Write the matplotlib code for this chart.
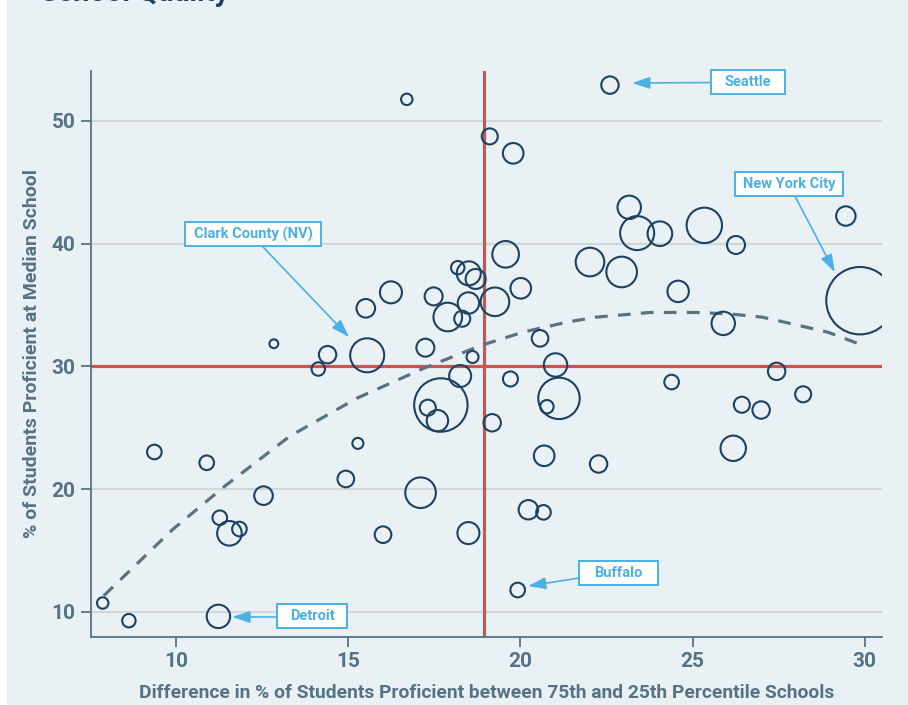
import matplotlib
matplotlib.use("Agg")
import matplotlib.pyplot as plt
from matplotlib.patches import Rectangle

plt.rcParams['font.family'] = ['Liberation Sans Narrow', 'Roboto', 'DejaVu Sans']
plt.rcParams['font.weight'] = 'bold'

# --- data --------------------------------------------------------------------
gap = [16.70, 19.11, 19.79, 22.60, 23.16, 23.39, 24.05, 25.34, 26.26, 29.45,
       19.57, 22.02, 22.94, 18.18, 18.50, 18.70, 16.24, 17.48, 15.51, 18.49,
       19.26, 20.01, 24.58, 17.89, 18.31, 25.89, 29.86, 12.84, 14.40, 14.13,
       15.55, 17.24, 20.57, 18.61, 21.02, 18.25, 19.71, 27.44, 24.39, 28.21,
       26.43, 26.99, 17.69, 17.31, 17.59, 19.18, 21.12, 20.77, 15.28, 9.37,
       10.89, 14.93, 17.10, 12.54, 11.27, 11.55, 11.84, 16.01, 18.49, 20.69,
       22.27, 26.18, 20.23, 20.67, 19.92, 7.87, 8.63, 11.23]
median = [51.76, 48.74, 47.36, 52.92, 42.96, 40.86, 40.81, 41.49, 39.89, 42.25,
          39.13, 38.50, 37.69, 38.04, 37.58, 37.12, 36.03, 35.70, 34.73, 35.16,
          35.26, 36.36, 36.11, 34.02, 33.88, 33.50, 35.35, 31.84, 30.95, 29.78,
          30.90, 31.52, 32.28, 30.76, 30.11, 29.21, 28.97, 29.59, 28.72, 27.72,
          26.87, 26.44, 26.85, 26.63, 25.57, 25.40, 27.39, 26.71, 23.72, 23.02,
          22.14, 20.82, 19.70, 19.46, 17.66, 16.39, 16.74, 16.28, 16.41, 22.71,
          22.04, 23.32, 18.31, 18.10, 11.77, 10.71, 9.27, 9.62]
# bubble radius (district size, px)
radius = [5.7, 8.0, 10.3, 8.7, 11.7, 17.0, 12.3, 17.7, 9.0, 9.7,
          13.3, 14.3, 15.3, 6.7, 12.0, 10.0, 11.0, 9.0, 9.3, 10.7,
          14.3, 10.3, 10.7, 14.3, 8.0, 11.7, 33.7, 4.4, 8.7, 6.7,
          17.0, 9.0, 8.3, 6.0, 11.7, 11.0, 7.5, 8.7, 7.3, 8.0,
          8.0, 8.7, 26.7, 8.0, 10.7, 8.7, 20.7, 6.7, 5.5, 7.3,
          7.3, 8.3, 15.3, 9.3, 7.3, 12.3, 7.3, 8.3, 11.0, 10.3,
          8.7, 12.7, 9.7, 7.3, 7.3, 5.7, 6.7, 11.7]

# fitted trend (dashed line)
trend_x = [7.9, 9.9, 11.4, 13.3, 15.25, 17.2, 18.85, 20.08, 21.35, 22.17,
           23.76, 25.13, 26.09, 27.04, 28.12, 28.94, 29.86]
trend_y = [11.3, 16.7, 20.2, 24.3, 27.4, 29.85, 31.7, 32.79, 33.6, 34.0,
           34.39, 34.39, 34.27, 34.0, 33.31, 32.77, 31.8]

median_gap = 18.93
median_prof = 30

labels = ['Seattle', 'New York City', 'Clark County (NV)', 'Buffalo', 'Detroit']
label_xy = [(26.61, 53.17), (27.80, 44.84), (12.24, 40.77), (22.85, 13.15), (13.95, 9.65)]
label_w = [2.149, 3.136, 3.949, 2.294, 2.033]
label_h = 1.956
arrow_from = [(25.53, 53.13), (27.97, 43.88), (12.50, 39.80), (21.70, 12.75), (12.93, 9.57)]
arrow_to = [(23.24, 53.09), (29.13, 37.67), (15.02, 32.39), (20.22, 12.09), (11.63, 9.57)]

bg = '#e9f1f5'
navy = '#1d4160'
slate = '#557385'
red = '#cc5450'
blue = '#4bb1e5'

fig = plt.figure(figsize=(9.08, 7.05), dpi=100, facecolor='white')
fig.patches.append(Rectangle((7 / 908, 0), 1, 1, transform=fig.transFigure,
                             facecolor=bg, edgecolor='none', zorder=-10))
# title is cut off by the top edge
fig.text(40 / 908, 1 - 0.8 / 705, 'School Quality', fontsize=21, color=navy,
         fontweight='bold', va='baseline', ha='left')

ax = fig.add_axes([91 / 908, 1 - 637 / 705, (882 - 91) / 908, (637 - 71) / 705])
ax.set_facecolor('none')
ax.set_xlim(7.53, 30.5)
ax.set_ylim(7.94, 54.07)

ax.set_yticks([10, 20, 30, 40, 50])
ax.set_xticks([10, 15, 20, 25, 30])
ax.yaxis.grid(True, color='#d3d6d9', lw=1.5)
ax.set_axisbelow(True)

for s in ['top', 'right']:
    ax.spines[s].set_visible(False)
for s in ['left', 'bottom']:
    ax.spines[s].set_color(slate)
    ax.spines[s].set_linewidth(1.3)
ax.tick_params(axis='both', colors=slate, length=7, width=1.3, labelsize=15, pad=4)
for t in ax.get_xticklabels() + ax.get_yticklabels():
    t.set_fontweight('bold')

ax.axvline(median_gap, color=red, lw=2.3, zorder=1)
ax.axhline(median_prof, color=red, lw=2.3, zorder=1)

sizes = [(2 * r * 0.72) ** 2 for r in radius]
ax.scatter(gap, median, s=sizes, facecolors='none', edgecolors=navy, linewidths=1.5, zorder=3)

ax.plot(trend_x, trend_y, color='#5a7380', lw=2.3, dashes=(4, 3.2), zorder=2)

# callout boxes with arrows
for lab, (cx, cy), w, p0, p1 in zip(labels, label_xy, label_w, arrow_from, arrow_to):
    ax.add_patch(Rectangle((cx - w / 2, cy - label_h / 2), w, label_h, clip_on=False,
                           facecolor='white', edgecolor=blue, lw=1.4, zorder=5))
    ax.text(cx, cy, lab, ha='center', va='center', fontsize=10.5, clip_on=False,
            color=blue, fontweight='bold', zorder=6)
    ax.annotate('', xy=p1, xytext=p0, zorder=5, annotation_clip=False,
                arrowprops=dict(arrowstyle='-|>,head_length=0.9,head_width=0.3',
                                mutation_scale=12, color=blue, lw=1.2,
                                shrinkA=0, shrinkB=0))

ax.set_xlabel('Difference in % of Students Proficient between 75th and 25th Percentile Schools',
              fontsize=13.9, color=slate, fontweight='bold', labelpad=9)
ax.set_ylabel('% of Students Proficient at Median School',
              fontsize=14, color=slate, fontweight='bold', labelpad=8)

fig.savefig('out.png', dpi=100, facecolor=fig.get_facecolor())
